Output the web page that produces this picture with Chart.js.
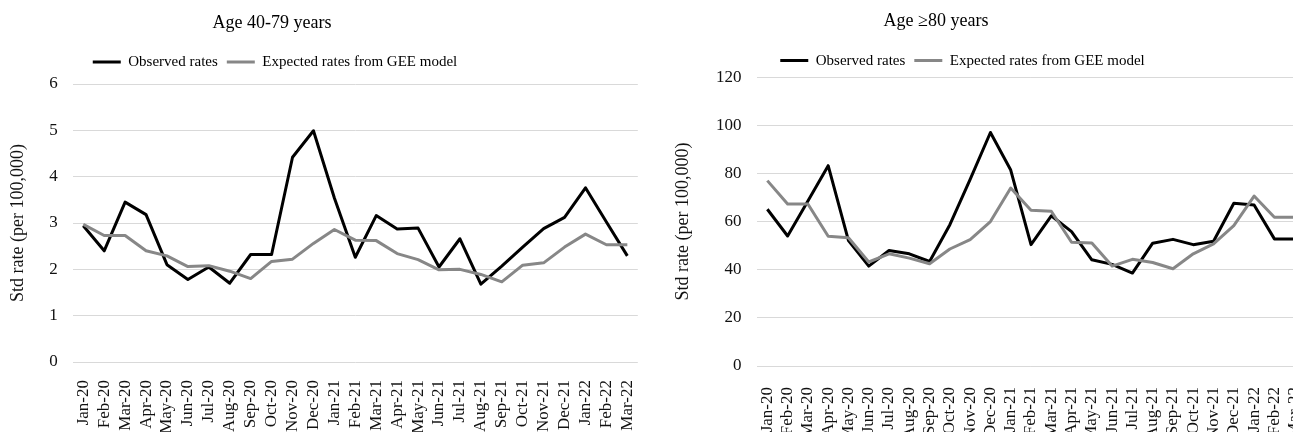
<!DOCTYPE html>
<html>
<head>
<meta charset="utf-8">
<script src="https://cdn.jsdelivr.net/npm/chart.js@4/dist/chart.umd.min.js"></script>
<style>
  html, body { margin: 0; padding: 0; background: #fff; overflow: hidden; }
  body { width: 1293px; height: 432px; position: relative; }
  #chartYounger { position: absolute; left: 0; top: 0; }
  #chartOlder { position: absolute; left: 648px; top: 0; }
</style>
</head>
<body>
<canvas id="chartYounger" width="648" height="432"></canvas>
<canvas id="chartOlder" width="668" height="450"></canvas>
<script>
// Monthly categories, Jan 2020 – Mar 2022
const months = ['Jan-20','Feb-20','Mar-20','Apr-20','May-20','Jun-20','Jul-20','Aug-20','Sep-20','Oct-20','Nov-20','Dec-20',
                'Jan-21','Feb-21','Mar-21','Apr-21','May-21','Jun-21','Jul-21','Aug-21','Sep-21','Oct-21','Nov-21','Dec-21',
                'Jan-22','Feb-22','Mar-22'];

// Age 40-79: standardised rates per 100,000
const observedYounger = [2.94, 2.40, 3.45, 3.18, 2.10, 1.78, 2.05, 1.70, 2.32, 2.32, 4.42, 4.99,
                         3.54, 2.26, 3.16, 2.87, 2.89, 2.05, 2.66, 1.68, 2.07, 2.48, 2.88, 3.12,
                         3.76, 3.02, 2.29];
const expectedYounger = [2.97, 2.73, 2.73, 2.40, 2.29, 2.06, 2.08, 1.96, 1.80, 2.17, 2.22, 2.56,
                         2.86, 2.63, 2.62, 2.34, 2.21, 1.99, 2.00, 1.89, 1.73, 2.09, 2.14, 2.48,
                         2.76, 2.53, 2.53];

// Age >=80: standardised rates per 100,000
const observedOlder = [65.1, 54.0, 68.5, 83.2, 52.1, 41.5, 48.0, 46.6, 43.4, 58.7, 77.5, 97.0,
                       81.4, 50.4, 62.4, 55.8, 44.1, 42.2, 38.6, 51.0, 52.6, 50.4, 51.8, 67.6,
                       66.9, 52.8, 52.8];
const expectedOlder = [77.0, 67.3, 67.3, 53.9, 53.3, 43.2, 46.6, 44.8, 42.5, 48.6, 52.5, 60.0,
                       73.9, 64.7, 64.3, 51.4, 51.1, 41.5, 44.3, 43.0, 40.4, 46.6, 50.7, 58.3,
                       70.6, 61.8, 61.8];

const yTicksYounger = { min: 0, max: 6, step: 1 };
const yTicksOlder = { min: 0, max: 120, step: 20 };

const seriesNames = ['Observed rates', 'Expected rates from GEE model'];
const axisTitle = 'Std rate (per 100,000)';

const FONT = "'Liberation Serif', 'Times New Roman', serif";

// Moves the title and legend blocks to given centre x positions and vertical offsets.
const placeHeader = {
  id: 'placeHeader',
  afterLayout(chart, args, opts) {
    const t = chart.titleBlock;
    const l = chart.legend;
    if (t) {
      t.left = opts.titleX - 250; t.right = opts.titleX + 250;
      t.top += opts.titleDy || 0; t.bottom += opts.titleDy || 0;
    }
    if (l) {
      l.left = opts.legendX - 250; l.right = opts.legendX + 250;
      l.top += opts.legendDy || 0; l.bottom += opts.legendDy || 0;
    }
  }
};

function makeChart(canvasId, cfg) {
  const datasets = [
    { label: seriesNames[0], data: cfg.observed, borderColor: '#000000', backgroundColor: '#000000', order: 1 },
    { label: seriesNames[1], data: cfg.expected, borderColor: '#878787', backgroundColor: '#878787', order: 0 }
  ].map(d => Object.assign(d, {
    borderWidth: 3, pointRadius: 0, pointHoverRadius: 0, tension: 0,
    borderJoinStyle: 'round', borderCapStyle: 'butt', fill: false
  }));

  return new Chart(document.getElementById(canvasId), {
    type: 'line',
    data: { labels: months, datasets },
    plugins: [placeHeader],
    options: {
      responsive: false,
      animation: false,
      devicePixelRatio: 1,
      events: [],
      layout: { padding: 0 },
      plugins: {
        placeHeader: { titleX: cfg.titleX, legendX: cfg.legendX, titleDy: 0, legendDy: cfg.legendDy },
        tooltip: { enabled: false },
        title: {
          display: true,
          text: cfg.title,
          color: '#000',
          font: { family: FONT, size: 18, weight: 'normal' },
          padding: { top: cfg.titlePadTop, bottom: cfg.titlePadBottom }
        },
        legend: {
          display: true,
          position: 'top',
          labels: {
            usePointStyle: true,
            pointStyle: 'line',
            pointStyleWidth: 28,
            padding: cfg.legendPad,
            color: '#000',
            font: { family: FONT, size: 15 },
            sort: (a, b) => a.datasetIndex - b.datasetIndex
          }
        }
      },
      scales: {
        x: {
          type: 'category',
          offset: true,
          grid: { display: false },
          border: { display: false },
          ticks: {
            autoSkip: false, minRotation: 90, maxRotation: 90,
            padding: cfg.xTickPad, color: '#111',
            font: { family: FONT, size: 17 }
          },
          afterFit: s => {
            s.height = cfg.xHeight;
            s.paddingLeft = 0;
            s.paddingRight = cfg.padRight;
          }
        },
        y: {
          min: cfg.yTicks.min,
          max: cfg.yTicks.max,
          grid: { color: '#d9d9d9', lineWidth: 1, drawTicks: false },
          border: { display: false },
          ticks: {
            stepSize: cfg.yTicks.step, padding: cfg.yTickPad, color: '#111',
            font: { family: FONT, size: 17 }
          },
          title: {
            display: true, text: axisTitle, color: '#111',
            font: { family: FONT, size: 18 },
            padding: { top: cfg.yTitlePad, bottom: 0 }
          },
          afterFit: s => { s.width = cfg.yWidth; }
        }
      }
    }
  });
}

makeChart('chartYounger', {
  title: 'Age 40-79 years',
  observed: observedYounger,
  expected: expectedYounger,
  yTicks: yTicksYounger,
  titleX: 272, legendX: 275,
  titlePadTop: 12.2, titlePadBottom: 16.2, legendPad: 9, legendDy: -4.5,
  padRight: 10.2, yWidth: 72.8, yTickPad: 15, yTitlePad: 7.5,
  xHeight: 70, xTickPad: 10
});

makeChart('chartOlder', {
  title: 'Age \u226580 years',
  observed: observedOlder,
  expected: expectedOlder,
  yTicks: yTicksOlder,
  titleX: 288, legendX: 314.5,
  titlePadTop: 10.5, titlePadBottom: 11, legendPad: 9, legendDy: 1,
  padRight: 11.2, yWidth: 109.2, yTickPad: 15.7, yTitlePad: 24.2,
  xHeight: 84, xTickPad: 13
});
</script>
</body>
</html>
